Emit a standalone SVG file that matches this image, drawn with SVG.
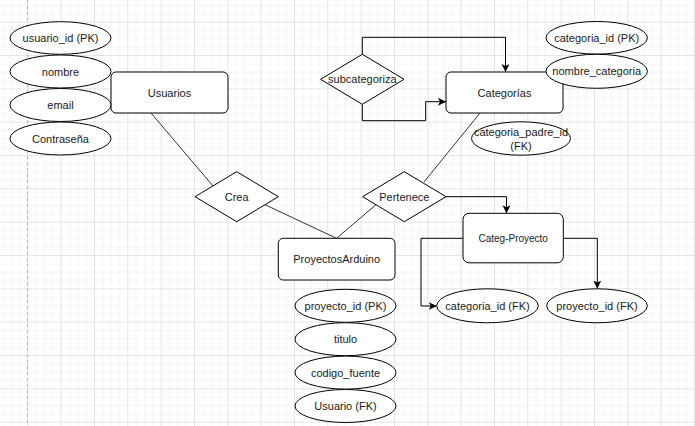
<svg xmlns="http://www.w3.org/2000/svg" width="695" height="426" viewBox="0 0 695 426">
<defs>
<pattern id="grid" patternUnits="userSpaceOnUse" x="27.333" y="21.667" width="33.333" height="33.333">
<rect x="0" y="0" width="33.333" height="33.333" fill="#ffffff"/>
<g fill="#f5f5f5">
<rect x="8.333" y="0" width="1" height="33.333"/>
<rect x="16.667" y="0" width="1" height="33.333"/>
<rect x="25" y="0" width="1" height="33.333"/>
<rect x="0" y="8.333" width="33.333" height="1"/>
<rect x="0" y="16.667" width="33.333" height="1"/>
<rect x="0" y="25" width="33.333" height="1"/>
</g>
<g fill="#e5e5e5">
<rect x="0" y="0" width="1" height="33.333"/>
<rect x="0" y="0" width="33.333" height="1"/>
</g>
</pattern>
<marker id="arr" markerUnits="userSpaceOnUse" markerWidth="10" markerHeight="10" viewBox="0 0 10 10" refX="8" refY="5" orient="auto">
<path d="M0,1 L8,5 L0,9 L2,5 Z" fill="#000"/>
</marker>
<style>
.ent{fill:#fff;stroke:#000;stroke-width:1}
.att{fill:#fff;stroke:#000;stroke-width:1}
.rel{fill:#fff;stroke:#000;stroke-width:1}
.ln{fill:none;stroke:#333;stroke-width:1}
.ar{fill:none;stroke:#000;stroke-width:1;marker-end:url(#arr)}
text{font-family:"Liberation Sans",Arial,Helvetica,sans-serif;font-size:11px;fill:#1a1a1a;text-anchor:middle}
.sm{font-size:10px}
</style>
</defs>
<rect x="0" y="0" width="695" height="426" fill="url(#grid)"/>
<line x1="27.5" y1="0" x2="27.5" y2="426" stroke="#b8b8b8" stroke-width="1" stroke-dasharray="3,3"/>

<g id="connectors">
<line class="ln" x1="151" y1="113" x2="213" y2="186"/>
<line class="ln" x1="265" y1="204.7" x2="336.5" y2="238.3"/>
<line class="ln" x1="376" y1="204.7" x2="336.5" y2="238.3"/>
<line class="ln" x1="480" y1="113" x2="424" y2="182"/>
<path class="ar" d="M362.3,54.3 V37.3 H505.5 V72"/>
<path class="ar" d="M362.3,104.3 V120.7 H425.7 V101.7 H446"/>
<path class="ar" d="M446,196.7 H506.5 V213.3"/>
<path class="ar" d="M463,238.3 H421 V306 H436.7"/>
<path class="ar" d="M563.3,238.3 H597.3 V288.5"/>
</g>

<g id="usuarios">
<rect class="ent" x="111" y="72" width="117" height="41" rx="5"/>
<text x="169.5" y="96.5">Usuarios</text>
</g>
<g id="usuario_id">
<ellipse class="att" cx="60.5" cy="38" rx="50.5" ry="16.3"/>
<text x="60.5" y="42">usuario_id (PK)</text>
</g>
<g id="nombre">
<ellipse class="att" cx="60.5" cy="71.5" rx="50.5" ry="16.5"/>
<text x="60.5" y="75.5">nombre</text>
</g>
<g id="email">
<ellipse class="att" cx="60.5" cy="105" rx="50.5" ry="16.5"/>
<text x="60.5" y="109">email</text>
</g>
<g id="contrasena">
<ellipse class="att" cx="60.5" cy="138.5" rx="50.5" ry="16.5"/>
<text x="60.5" y="142.5">Contraseña</text>
</g>

<g id="subcategoriza">
<polygon class="rel" points="362.3,54.3 404,79.3 362.3,104.3 320.6,79.3"/>
<text x="362.3" y="83.3">subcategoriza</text>
</g>

<g id="categorias">
<rect class="ent" x="446" y="72" width="117" height="41" rx="5"/>
<text x="504.5" y="96.5">Categorías</text>
</g>
<g id="categoria_id_pk">
<ellipse class="att" cx="596.7" cy="37.8" rx="50.7" ry="16.3"/>
<text x="596.7" y="41.8">categoria_id (PK)</text>
</g>
<g id="nombre_categoria">
<ellipse class="att" cx="596.7" cy="71.3" rx="50.7" ry="17"/>
<text x="596.7" y="75.3">nombre_categoria</text>
</g>
<g id="categoria_padre_id">
<ellipse class="att" cx="521" cy="138.5" rx="49.5" ry="16.7"/>
<text x="521" y="136.3">categoria_padre_id</text>
<text x="521" y="150">(FK)</text>
</g>

<g id="crea">
<polygon class="rel" points="236.7,171.7 278.3,196.7 236.7,221.7 195,196.7"/>
<text x="236.7" y="200.7">Crea</text>
</g>
<g id="pertenece">
<polygon class="rel" points="404.3,171.7 446,196.7 404.3,221.7 362.6,196.7"/>
<text x="404.3" y="200.7">Pertenece</text>
</g>

<g id="proyectosarduino">
<rect class="ent" x="278.3" y="238.3" width="116.7" height="41.7" rx="5"/>
<text x="336.7" y="263">ProyectosArduino</text>
</g>
<g id="proyecto_id_pk">
<ellipse class="att" cx="345.5" cy="305.8" rx="50.5" ry="16.5"/>
<text x="345.5" y="309.8">proyecto_id (PK)</text>
</g>
<g id="titulo">
<ellipse class="att" cx="345.5" cy="339.2" rx="50.5" ry="16.5"/>
<text x="345.5" y="343.2">titulo</text>
</g>
<g id="codigo_fuente">
<ellipse class="att" cx="345.5" cy="372.6" rx="50.5" ry="16.5"/>
<text x="345.5" y="376.6">codigo_fuente</text>
</g>
<g id="usuario_fk">
<ellipse class="att" cx="345.5" cy="406" rx="50.5" ry="16.5"/>
<text x="345.5" y="410">Usuario (FK)</text>
</g>

<g id="categ_proyecto">
<rect class="ent" x="463" y="213.3" width="100.3" height="49.5" rx="6"/>
<text class="sm" x="513.2" y="241.5">Categ-Proyecto</text>
</g>
<g id="categoria_id_fk">
<ellipse class="att" cx="487.5" cy="305.8" rx="50.8" ry="17"/>
<text x="487.5" y="309.8">categoria_id (FK)</text>
</g>
<g id="proyecto_id_fk">
<ellipse class="att" cx="597" cy="305.8" rx="50.3" ry="17"/>
<text x="597" y="309.8">proyecto_id (FK)</text>
</g>
</svg>
